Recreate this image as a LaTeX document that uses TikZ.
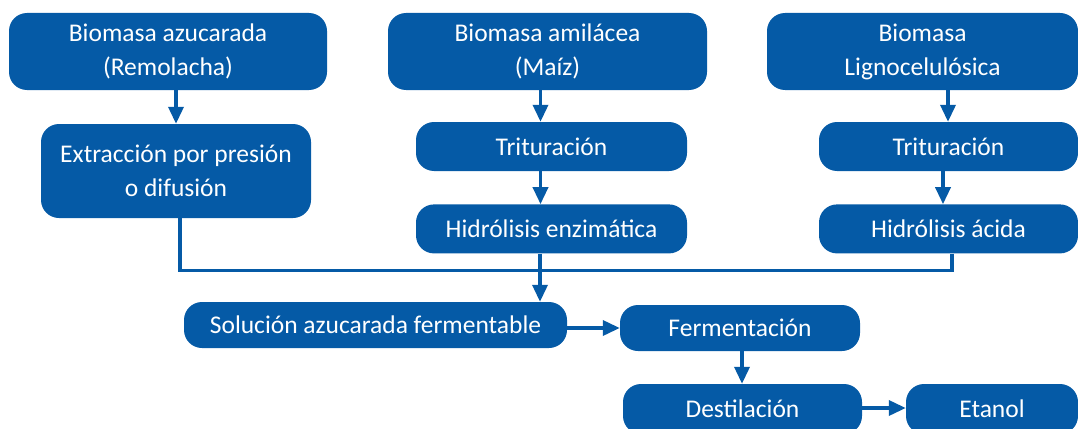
\documentclass[tikz,border=0pt]{standalone}
\usepackage{fontspec}
\setmainfont{Carlito}
\usetikzlibrary{positioning}
\usetikzlibrary{arrows.meta}
\definecolor{azul}{RGB}{5,90,166}

\begin{document}
\begin{tikzpicture}[x=1pt, y=1pt,
		proceso/.style={rectangle, rounded corners=18pt, fill=azul, text=white, align=center, inner sep=2pt, font=\fontsize{25.5}{34}\selectfont},
		flecha/.style={-{Triangle[width=15pt,length=17pt]}, line width=3.5pt, draw=azul},
		linea/.style={line width=3.5pt, draw=azul}
	]
		\useasboundingbox (0,0) rectangle (1078,-428);

		\node[proceso, minimum width=318pt, minimum height=77pt] (azucarada) at (168,-51.5) {Biomasa azucarada\\(Remolacha)};
		\node[proceso, minimum width=270pt, minimum height=94pt] (extraccion) at (176,-171) {Extracción por presión\\o difusión};

		\node[proceso, minimum width=319pt, minimum height=77pt] (amilacea) at (547.5,-51.5) {Biomasa amilácea\\(Maíz)};
		\node[proceso, minimum width=271pt, minimum height=49pt] (trit1) at (551.5,-146.5) {Trituración};
		\node[proceso, minimum width=271pt, minimum height=49pt, below=33pt of trit1] (hidenz) {Hidrólisis enzimática};

		\node[proceso, minimum width=311pt, minimum height=77pt] (ligno) at (922.5,-51.5) {Biomasa\\Lignocelulósica};
		\node[proceso, minimum width=259pt, minimum height=49pt] (trit2) at (948.5,-146.5) {Trituración};
		\node[proceso, minimum width=259pt, minimum height=49pt, below=33pt of trit2] (hidacida) {Hidrólisis ácida};

		\node[proceso, minimum width=383pt, minimum height=46pt] (solucion) at (375.5,-325) {Solución azucarada fermentable};
		\node[proceso, minimum width=240pt, minimum height=46pt] (ferment) at (740,-328) {Fermentación};
		\node[proceso, minimum width=239pt, minimum height=50pt] (destil) at (742.5,-409) {Destilación};
		\node[proceso, minimum width=172pt, minimum height=50pt] (etanol) at (992,-409) {Etanol};

		\coordinate (union) at (540,-270.5);

		\draw[flecha] (azucarada.south -| extraccion.north) -- (extraccion.north);
		\draw[flecha] ([xshift=-11pt]trit1.north |- amilacea.south) -- ([xshift=-11pt]trit1.north);
		\draw[flecha] ([xshift=-11pt]trit1.south) -- ([xshift=-11pt]hidenz.north);
		\draw[flecha] ([xshift=-0.5pt]trit2.north |- ligno.south) -- ([xshift=-0.5pt]trit2.north);
		\draw[flecha] ([xshift=-5.5pt]trit2.south) -- ([xshift=-5.5pt]hidacida.north);

		% las tres lineas se juntan sobre la solucion
		\draw[linea] ([xshift=4pt]extraccion.south) |- (union);
		\draw[linea] ([xshift=3.5pt]hidacida.south) |- (union);
		\draw[flecha] (hidenz.south -| union) -- (union |- solucion.north);

		\draw[flecha] (solucion.east |- ferment.west) -- (ferment.west);
		\draw[flecha] ([xshift=2pt]ferment.south) -- ([xshift=2pt]ferment.south |- destil.north);
		\draw[flecha] (destil.east |- 0,-408) -- (etanol.west |- 0,-408);
	\end{tikzpicture}
\end{document}
